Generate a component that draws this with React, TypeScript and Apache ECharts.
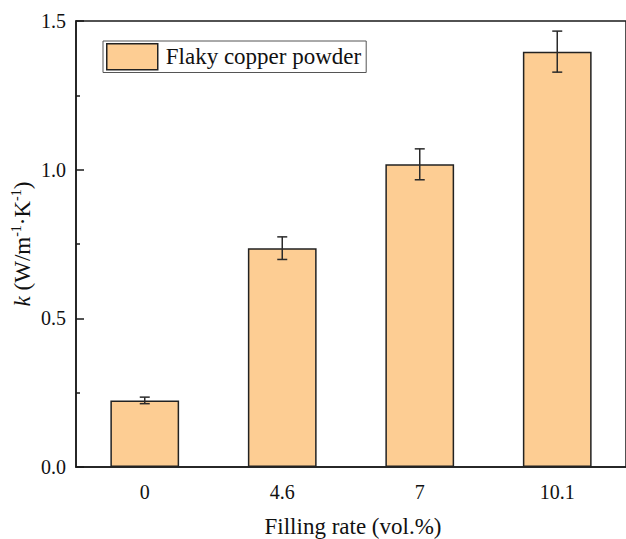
import React, { useEffect, useRef } from "react";
import * as echarts from "echarts";

// Filling rate categories (vol.%)
const categories = ["0", "4.6", "7", "10.1"];
// Thermal conductivity k (W/m^-1·K^-1)
const kValues = [0.224, 0.736, 1.018, 1.397];
// Error (± half-range)
const kErrors = [0.011, 0.038, 0.052, 0.069];
// Y axis tick values
const yTicks = [0, 0.5, 1.0, 1.5];

const SERIF = "Liberation Serif";
const BAR_FILL = "#FDCD93";
const INK = "#1a1a1a";

export default function App() {
  const ref = useRef<HTMLDivElement>(null);

  useEffect(() => {
    document.body.style.margin = "0";
    if (!ref.current) return;
    const chart = echarts.init(ref.current, undefined, { renderer: "svg" });

    const errData = categories.map((_, i) => [i, kValues[i], kErrors[i]]);

    chart.setOption({
      animation: false,
      backgroundColor: "#ffffff",
      textStyle: { fontFamily: SERIF },
      grid: {
        left: 76,
        top: 21,
        width: 555,
        height: 446,
        show: true,
        borderColor: INK,
        borderWidth: 1.5,
        containLabel: false,
      },
      legend: {
        show: true,
        left: 103,
        top: 41,
        padding: [2, 5, 2, 3],
        borderColor: "#555",
        borderWidth: 1,
        itemWidth: 51,
        itemHeight: 26,
        icon: "rect",
        data: [
          {
            name: "Flaky copper powder",
            itemStyle: { color: BAR_FILL, borderColor: "#222", borderWidth: 1.5 },
          },
        ],
        textStyle: {
          fontFamily: SERIF,
          fontSize: 23,
          color: "#111",
          padding: [0, 0, 0, 3],
        },
      },
      xAxis: {
        type: "category",
        data: categories,
        axisLine: { lineStyle: { color: INK, width: 1.5 } },
        axisTick: { show: false },
        axisLabel: {
          fontFamily: SERIF,
          fontSize: 20,
          color: "#111",
          margin: 15,
        },
        splitLine: { show: false },
      },
      yAxis: {
        type: "value",
        min: yTicks[0],
        max: yTicks[yTicks.length - 1],
        interval: 0.5,
        axisLine: { show: true, lineStyle: { color: INK, width: 1.5 } },
        axisTick: { show: true, inside: true, length: 8, lineStyle: { color: INK, width: 1.5 } },
        minorTick: { show: true, splitNumber: 2, length: 4, lineStyle: { color: INK, width: 1.5 } },
        splitLine: { show: false },
        axisLabel: {
          fontFamily: SERIF,
          fontSize: 20,
          color: "#111",
          margin: 10,
          formatter: (v: number) => v.toFixed(1),
        },
      },
      series: [
        {
          name: "Flaky copper powder",
          type: "bar",
          data: kValues,
          barWidth: "50%",
          itemStyle: { color: BAR_FILL, borderColor: "#222", borderWidth: 1.5 },
        },
        {
          name: "error",
          type: "custom",
          data: errData,
          z: 5,
          renderItem: (_params: any, api: any) => {
            const x = api.value(0);
            const v = api.value(1);
            const e = api.value(2);
            const top = api.coord([x, v + e]);
            const bot = api.coord([x, v - e]);
            const half = 5;
            const style = { stroke: "#2a2a2a", lineWidth: 1.5 };
            return {
              type: "group",
              children: [
                { type: "line", shape: { x1: top[0], y1: top[1], x2: bot[0], y2: bot[1] }, style },
                { type: "line", shape: { x1: top[0] - half, y1: top[1], x2: top[0] + half, y2: top[1] }, style },
                { type: "line", shape: { x1: bot[0] - half, y1: bot[1], x2: bot[0] + half, y2: bot[1] }, style },
              ],
            };
          },
        },
      ],
      graphic: [
        {
          type: "text",
          x: 22,
          y: 244,
          rotation: Math.PI / 2,
          style: {
            text: "{i|k} (W/m{s|-1}·K{s|-1})",
            fontFamily: SERIF,
            fontSize: 23,
            fill: "#111",
            align: "center",
            verticalAlign: "middle",
            lineHeight: 26,
            rich: {
              i: { fontStyle: "italic", fontFamily: SERIF, fontSize: 23, lineHeight: 26 },
              s: { fontFamily: SERIF, fontSize: 14, lineHeight: 14, verticalAlign: "top" },
            },
          },
        },
        {
          type: "text",
          x: 353,
          y: 526,
          style: {
            text: "Filling rate (vol.%)",
            fontFamily: SERIF,
            fontSize: 23,
            fill: "#111",
            align: "center",
            verticalAlign: "middle",
          },
        },
      ],
    });

    return () => chart.dispose();
  }, []);

  return <div ref={ref} style={{ width: 626, height: 539, position: "absolute", left: 0, top: 0 }} />;
}
